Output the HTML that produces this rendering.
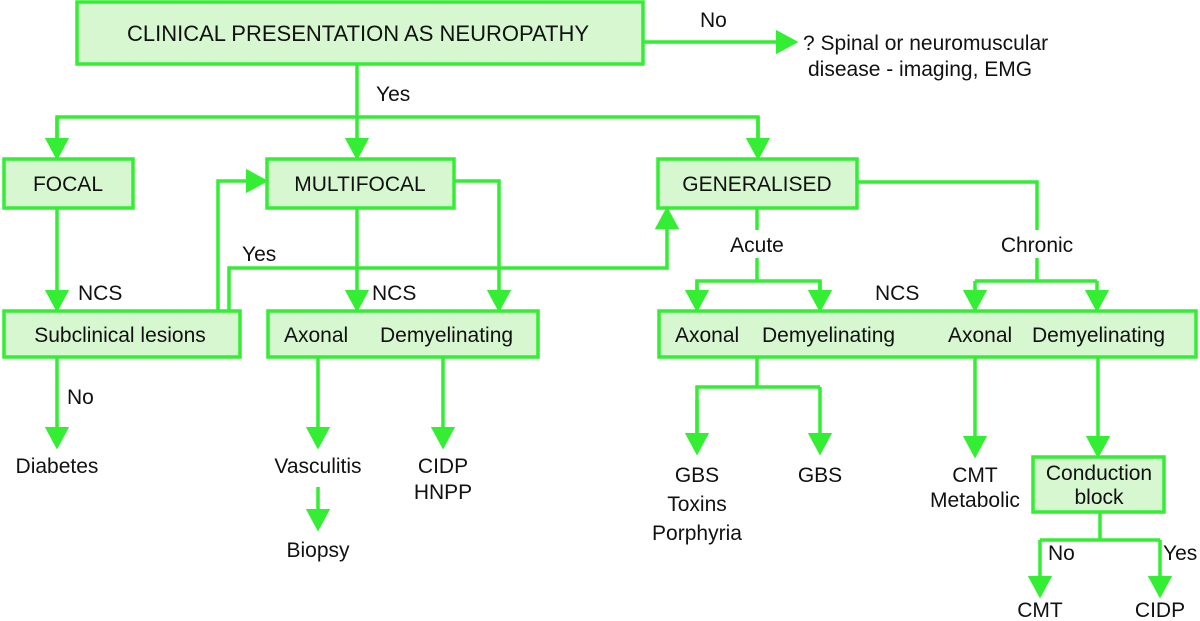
<!DOCTYPE html>
<html><head><meta charset="utf-8"><style>
html,body{margin:0;padding:0;background:#fff;}
svg{display:block;}
text{font-family:"Liberation Sans",sans-serif;font-size:21px;fill:#111;}
</style></head><body>
<svg width="1200" height="621" viewBox="0 0 1200 621" xmlns="http://www.w3.org/2000/svg">
<defs>
<marker id="a" markerWidth="6.5" markerHeight="7" refX="5.5" refY="3.5" orient="auto" markerUnits="strokeWidth"><path d="M0,0 L6.5,3.5 L0,7 Z" fill="#33ee33"/></marker>
</defs>
<g fill="#d6f7cf" stroke="#33ee33" stroke-width="3.5">
<rect x="77" y="2" width="566" height="62"/>
<rect x="4" y="159" width="129" height="49"/>
<rect x="267" y="159" width="187" height="49"/>
<rect x="658" y="159" width="199" height="49"/>
<rect x="4" y="311" width="236" height="46"/>
<rect x="268" y="311" width="270" height="46"/>
<rect x="659" y="311" width="537" height="46"/>
<rect x="1033" y="457" width="131" height="55"/>
</g>
<g fill="none" stroke="#33ee33" stroke-width="3.5">
<path d="M643,42 H795" marker-end="url(#a)"/>
<path d="M357,64 V157" marker-end="url(#a)"/>
<path d="M57,157 V117 H758 V157" />
<path d="M57,117 V157" marker-end="url(#a)"/>
<path d="M758,117 V157" marker-end="url(#a)"/>
<path d="M57,208 V309" marker-end="url(#a)"/>
<path d="M218,311 V181 H265" marker-end="url(#a)"/>
<path d="M229,311 V268 H667 V210" marker-end="url(#a)"/>
<path d="M357,208 V309" marker-end="url(#a)"/>
<path d="M454,181 H499 V309" marker-end="url(#a)"/>
<path d="M757,208 V230 M757,258 V281 H697 V309 M757,281 H820 V309"/>
<path d="M697,281 V309" marker-end="url(#a)"/>
<path d="M820,281 V309" marker-end="url(#a)"/>
<path d="M857,182 H1037 V230 M1037,258 V281 H975 M1037,281 H1097"/>
<path d="M975,281 V309" marker-end="url(#a)"/>
<path d="M1097,281 V309" marker-end="url(#a)"/>
<path d="M57,357 V446" marker-end="url(#a)"/>
<path d="M318,357 V446" marker-end="url(#a)"/>
<path d="M318,487 V528" marker-end="url(#a)"/>
<path d="M443,357 V446" marker-end="url(#a)"/>
<path d="M757,357 V387 H697 V452 M757,387 H820"/>
<path d="M697,400 V452" marker-end="url(#a)"/>
<path d="M820,387 V452" marker-end="url(#a)"/>
<path d="M975,357 V455" marker-end="url(#a)"/>
<path d="M1098,357 V455" marker-end="url(#a)"/>
<path d="M1100,512 V540 H1040 M1100,540 H1160"/>
<path d="M1040,540 V595" marker-end="url(#a)"/>
<path d="M1160,540 V595" marker-end="url(#a)"/>
</g>
<text x="358" y="41" text-anchor="middle" style="font-size:22px">CLINICAL PRESENTATION AS NEUROPATHY</text>
<text x="700" y="27">No</text>
<text x="803" y="50">? Spinal or neuromuscular</text>
<text x="808" y="76">disease - imaging, EMG</text>
<text x="376" y="101">Yes</text>
<text x="68" y="191" text-anchor="middle">FOCAL</text>
<text x="360" y="191" text-anchor="middle">MULTIFOCAL</text>
<text x="757" y="191" text-anchor="middle">GENERALISED</text>
<text x="78" y="300">NCS</text>
<text x="372" y="300">NCS</text>
<text x="875" y="300">NCS</text>
<text x="242" y="261">Yes</text>
<text x="757" y="252" text-anchor="middle">Acute</text>
<text x="1037" y="252" text-anchor="middle">Chronic</text>
<text x="120" y="342" text-anchor="middle">Subclinical lesions</text>
<text x="284" y="342">Axonal</text>
<text x="380" y="342">Demyelinating</text>
<text x="675" y="342">Axonal</text>
<text x="762" y="342">Demyelinating</text>
<text x="948" y="342">Axonal</text>
<text x="1032" y="342">Demyelinating</text>
<text x="67" y="404">No</text>
<text x="57" y="473" text-anchor="middle">Diabetes</text>
<text x="318" y="473" text-anchor="middle">Vasculitis</text>
<text x="318" y="557" text-anchor="middle">Biopsy</text>
<text x="443" y="473" text-anchor="middle">CIDP</text>
<text x="443" y="499" text-anchor="middle">HNPP</text>
<text x="697" y="482" text-anchor="middle">GBS</text>
<text x="697" y="511" text-anchor="middle">Toxins</text>
<text x="697" y="540" text-anchor="middle">Porphyria</text>
<text x="820" y="482" text-anchor="middle">GBS</text>
<text x="975" y="482" text-anchor="middle">CMT</text>
<text x="975" y="507" text-anchor="middle">Metabolic</text>
<text x="1099" y="480" text-anchor="middle">Conduction</text>
<text x="1099" y="504" text-anchor="middle">block</text>
<text x="1048" y="560">No</text>
<text x="1163" y="560">Yes</text>
<text x="1040" y="617" text-anchor="middle">CMT</text>
<text x="1160" y="617" text-anchor="middle">CIDP</text>
</svg>
</body></html>
